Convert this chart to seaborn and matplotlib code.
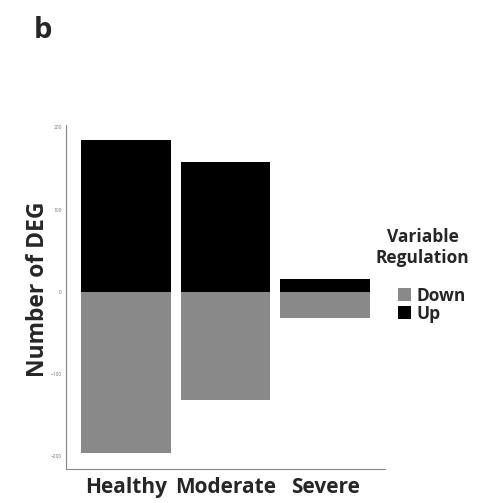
import matplotlib
matplotlib.use("Agg")
import matplotlib.pyplot as plt
import seaborn as sns
import pandas as pd
from matplotlib.patches import Patch

conditions = ["Healthy", "Moderate", "Severe"]
up_counts = [184, 158, 15]
down_counts = [-196, -131, -32]
regulations = ["Down", "Up"]
colors = {"Down": "#898989", "Up": "#000000"}

df = pd.DataFrame({
    "Condition": conditions * 2,
    "Count": down_counts + up_counts,
    "Regulation": ["Down"] * 3 + ["Up"] * 3,
})

sns.set_style("white")
plt.rcParams["font.family"] = ["Open Sans", "DejaVu Sans"]

fig = plt.figure(figsize=(4.87, 5.03), dpi=100)
ax = fig.add_axes([0.1355, 0.068, 0.655, 0.684])

sns.barplot(data=df, x="Condition", y="Count", hue="Regulation", dodge=False,
            palette=colors, width=0.9, ax=ax, legend=False, saturation=1,
            linewidth=0, edgecolor="none")

ax.set_xlim(-0.6, 2.6)
ax.set_ylim(-215, 203)
ax.set_yticks([-200, -100, 0, 100, 200])
ax.tick_params(axis="y", labelsize=3.5, labelcolor="#777777", length=2, width=0.6, color="#888888", pad=1)
ax.tick_params(axis="x", labelsize=15, length=2, width=0.6, color="#888888", pad=4)
for lbl in ax.get_xticklabels():
    lbl.set_fontweight("bold")
ax.set_xlabel("")
ax.set_ylabel("Number of DEG", fontsize=16.5, fontweight="bold")
ax.yaxis.set_label_coords(-0.05, 0.522)
for side in ["top", "right"]:
    ax.spines[side].set_visible(False)
for side in ["left", "bottom"]:
    ax.spines[side].set_color("#888888")
    ax.spines[side].set_linewidth(0.8)

fig.text(0.868, 0.508, "Variable\nRegulation", fontsize=12.5, fontweight="bold",
         ha="center", va="center", multialignment="center", linespacing=1.25)

handles = [Patch(facecolor=colors[r], edgecolor="none") for r in regulations]
leg = fig.legend(handles, regulations, loc="upper left", bbox_to_anchor=(0.818, 0.43),
                 frameon=False, prop={"weight": "bold", "size": 12.5},
                 handlelength=0.75, handleheight=0.75, handletextpad=0.3,
                 labelspacing=0.0, borderpad=0, borderaxespad=0)

fig.text(0.07, 0.94, "b", fontsize=21, fontweight="bold", ha="left", va="center")

fig.savefig("out.png", dpi=100)
